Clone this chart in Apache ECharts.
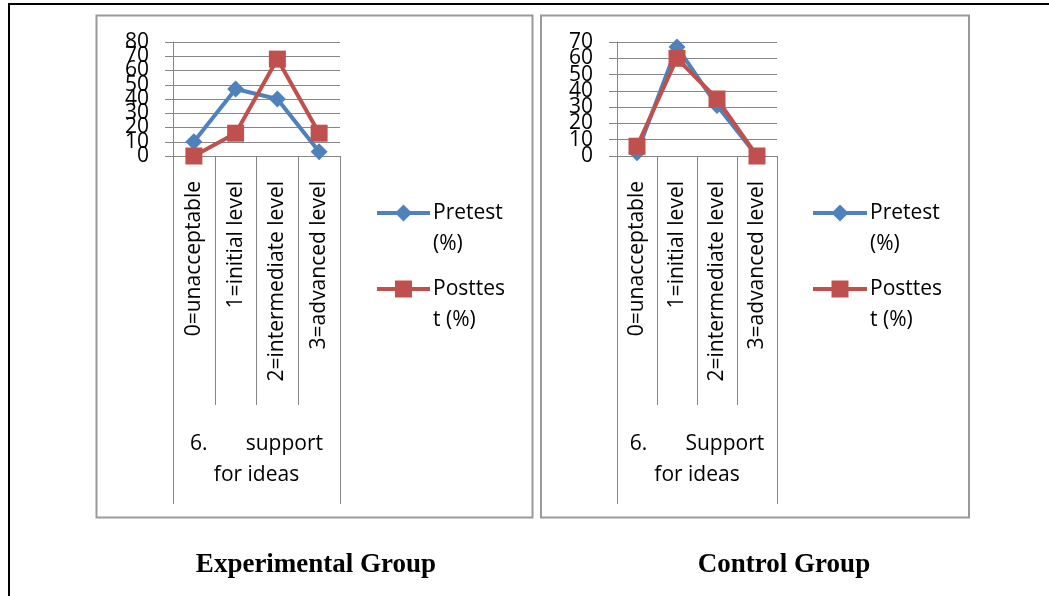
<!DOCTYPE html>
<html>
<head>
<meta charset="utf-8">
<title>Support for ideas – pretest vs posttest</title>
<script src="https://cdn.jsdelivr.net/npm/echarts@6/dist/echarts.min.js"></script>
<style>
  html, body { margin: 0; padding: 0; background: #ffffff; }
  #chart { width: 1049px; height: 596px; }
</style>
</head>
<body>
<div id="chart"></div>
<script>
// Rating levels on the category axis
const categories = ['0=unacceptable', '1=initial level', '2=intermediate level', '3=advanced level'];

// Experimental group (%)
const expPretest = [10, 47, 40, 3];
const expPosttest = [0, 16, 68, 16];

// Control group (%)
const ctrlPretest = [2, 67, 31, 0];
const ctrlPosttest = [6, 60, 35, 0];

// Series names and how the legend wraps them
const seriesNames = ['Pretest (%)', 'Posttest (%)'];
const legendLines = [['Pretest', '(%)'], ['Posttes', 't (%)']];

// Outer grouping label under the levels
const expGroupLabel = ['6.       support', 'for ideas'];
const ctrlGroupLabel = ['6.       Support', 'for ideas'];

// Panel captions
const panelTitles = ['Experimental Group', 'Control Group'];

// Y-axis ranges and tick labels (split in two interleaved sets so none get dropped)
const expMax = 80;
const ctrlMax = 70;
const yStep = 10;
const expTicksEven = [0, 20, 40, 60, 80];
const expTicksOdd = [10, 30, 50, 70];
const ctrlTicksEven = [0, 20, 40, 60];
const ctrlTicksOdd = [10, 30, 50, 70];

const BLUE = '#4f81bd';
const RED = '#c0504d';
const GRID_GRAY = '#868686';
const FRAME_GRAY = '#9a9a9a';
const FONT = '"Open Sans", "Noto Sans", sans-serif';

const chart = echarts.init(document.getElementById('chart'), null, { renderer: 'canvas' });

// value axis carrying the axis line, ticks and gridlines
function yAxisMain(gridIndex, max) {
  return {
    type: 'value', gridIndex: gridIndex, min: 0, max: max, interval: yStep,
    axisLine: { show: true, lineStyle: { color: GRID_GRAY, width: 1 } },
    axisTick: { show: true, length: 8, lineStyle: { color: GRID_GRAY } },
    splitLine: { show: true, lineStyle: { color: GRID_GRAY, width: 1 } },
    axisLabel: { show: false }
  };
}

// label-only value axis on the same scale
function yAxisLabels(gridIndex, max, values) {
  return {
    type: 'value', gridIndex: gridIndex, min: 0, max: max, position: 'left',
    axisLine: { show: false },
    axisTick: { show: false },
    splitLine: { show: false },
    axisLabel: { customValues: values, color: '#000', fontFamily: FONT, fontSize: 21, lineHeight: 14,
      margin: 24, showMinLabel: true, showMaxLabel: true, hideOverlap: false }
  };
}

function levelAxis(gridIndex) {
  return {
    type: 'category', gridIndex: gridIndex, data: categories, position: 'bottom',
    boundaryGap: true,
    axisLine: { show: true, onZero: false, lineStyle: { color: GRID_GRAY, width: 1 } },
    axisTick: { show: true, interval: 0, length: 249, lineStyle: { color: GRID_GRAY } },
    axisLabel: { interval: 0, rotate: 90, margin: 25, color: '#000', fontFamily: FONT, fontSize: 21 }
  };
}

function groupAxis(gridIndex, lines) {
  return {
    type: 'category', gridIndex: gridIndex, data: [lines.join('\n')], position: 'bottom',
    boundaryGap: true,
    axisLine: { show: false, onZero: false },
    axisTick: { show: true, interval: 0, length: 348, lineStyle: { color: GRID_GRAY } },
    axisLabel: { interval: 0, margin: 273, color: '#000', fontFamily: FONT, fontSize: 21, lineHeight: 31, align: 'center' }
  };
}

function lineSeries(name, data, axisIndex, color, symbol, size, z) {
  return {
    type: 'line', name: name, data: data,
    xAxisIndex: axisIndex, yAxisIndex: axisIndex,
    symbol: symbol, symbolSize: size, showAllSymbol: true,
    lineStyle: { color: color, width: 4 },
    itemStyle: { color: color, borderWidth: 0 },
    z: z, animation: false
  };
}

// Legend block drawn as graphics: short line with marker, text wrapped on two lines
function legendBlock(x0, lineLen, textX, y0) {
  const els = [];
  const specs = [
    { color: BLUE, symbol: 'diamond', y: y0 },
    { color: RED, symbol: 'rect', y: y0 + 76 }
  ];
  specs.forEach(function (s, i) {
    els.push({ type: 'line', shape: { x1: x0, y1: s.y, x2: x0 + lineLen, y2: s.y },
      style: { stroke: s.color, lineWidth: 4 }, silent: true });
    const cx = x0 + lineLen / 2;
    if (s.symbol === 'diamond') {
      els.push({ type: 'polygon', shape: { points: [[cx, s.y - 8.5], [cx + 8.5, s.y], [cx, s.y + 8.5], [cx - 8.5, s.y]] },
        style: { fill: s.color }, silent: true });
    } else {
      els.push({ type: 'rect', shape: { x: cx - 8.5, y: s.y - 8.5, width: 17, height: 17 },
        style: { fill: s.color }, silent: true });
    }
    legendLines[i].forEach(function (t, k) {
      els.push({ type: 'text', x: textX, y: s.y + k * 31,
        style: { text: t, fill: '#000', font: '21px ' + FONT, textAlign: 'left', textVerticalAlign: 'middle' },
        silent: true });
    });
  });
  return els;
}

const graphics = [
  // outer page box
  { type: 'rect', shape: { x: 9, y: 4, width: 1200, height: 800 },
    style: { fill: 'none', stroke: '#000', lineWidth: 2 }, silent: true, z: -10 },
  // panel frames
  { type: 'rect', shape: { x: 96.5, y: 15.5, width: 436, height: 502 },
    style: { fill: 'none', stroke: FRAME_GRAY, lineWidth: 2 }, silent: true, z: -9 },
  { type: 'rect', shape: { x: 541, y: 15.5, width: 428, height: 502 },
    style: { fill: 'none', stroke: FRAME_GRAY, lineWidth: 2 }, silent: true, z: -9 },
  // captions
  { type: 'text', x: 316, y: 565, style: { text: panelTitles[0], fill: '#000',
    font: 'bold 27px "Liberation Serif", "DejaVu Serif", serif', textAlign: 'center', textVerticalAlign: 'middle' }, silent: true },
  { type: 'text', x: 784, y: 565, style: { text: panelTitles[1], fill: '#000',
    font: 'bold 27px "Liberation Serif", "DejaVu Serif", serif', textAlign: 'center', textVerticalAlign: 'middle' }, silent: true }
].concat(legendBlock(377, 53, 433, 213), legendBlock(813, 54, 870, 213));

chart.setOption({
  backgroundColor: '#ffffff',
  animation: false,
  grid: [
    { left: 173, top: 42, width: 167, height: 114, containLabel: false },
    { left: 617, top: 42, width: 160, height: 114, containLabel: false }
  ],
  xAxis: [levelAxis(0), levelAxis(1), groupAxis(0, expGroupLabel), groupAxis(1, ctrlGroupLabel)],
  yAxis: [
    yAxisMain(0, expMax), yAxisMain(1, ctrlMax),
    yAxisLabels(0, expMax, expTicksEven), yAxisLabels(1, ctrlMax, ctrlTicksEven),
    yAxisLabels(0, expMax, expTicksOdd), yAxisLabels(1, ctrlMax, ctrlTicksOdd)
  ],
  series: [
    lineSeries(seriesNames[0], expPretest, 0, BLUE, 'diamond', 17, 3),
    lineSeries(seriesNames[1], expPosttest, 0, RED, 'rect', 17, 4),
    lineSeries(seriesNames[0], ctrlPretest, 1, BLUE, 'diamond', 17, 3),
    lineSeries(seriesNames[1], ctrlPosttest, 1, RED, 'rect', 17, 4)
  ],
  graphic: graphics
});
</script>
</body>
</html>
